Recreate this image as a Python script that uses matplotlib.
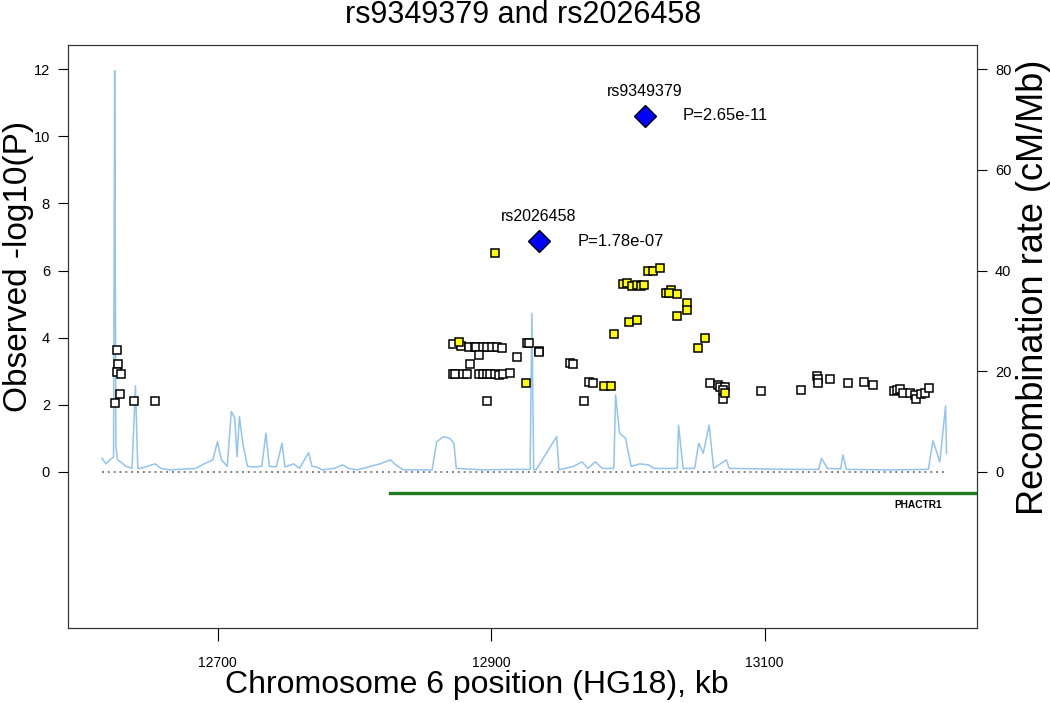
import matplotlib
matplotlib.use('Agg')
import matplotlib.pyplot as plt

plt.rcParams['font.family'] = ['Liberation Sans', 'DejaVu Sans']

# SNPs not in LD with the index SNPs (white squares)
other_kb = [12626.2, 12627.2, 12626.7, 12629.1, 12628.6, 12625.2, 12638.9, 12654.0,
            12871.9, 12877.8, 12884.1, 12888.0, 12889.0, 12893.9, 12897.2, 12900.7,
            12904.1, 12908.0, 12890.9, 12884.8, 12871.9, 12873.4, 12879.2, 12882.2,
            12891.4, 12893.9, 12896.8, 12899.2, 12903.1, 12906.0, 12908.9, 12913.8,
            12896.8, 12918.9, 12926.0, 12928.0, 12935.2, 12934.7, 12957.5, 12959.9,
            12971.8, 12974.3, 12968.2,
            13060.0, 13066.1, 13067.4, 13071.0, 13069.4, 13069.8, 13097.1, 13126.4,
            13138.5, 13139.3, 13139.3, 13147.8, 13161.2, 13172.7, 13179.5, 13194.6,
            13196.6, 13199.0, 13201.4, 13206.3, 13210.0, 13210.7, 13214.1, 13217.3,
            13220.4]
other_logp = [3.64, 3.22, 2.98, 2.93, 2.33, 2.06, 2.10, 2.10,
              3.80, 3.75, 3.72, 3.72, 3.72, 3.72, 3.72, 3.72,
              3.72, 3.70, 3.49, 3.21, 2.91, 2.91, 2.91, 2.91,
              2.91, 2.93, 2.91, 2.91, 2.91, 2.89, 2.91, 2.96,
              2.10, 3.41, 3.84, 3.84, 3.61, 3.57, 3.26, 3.21,
              2.69, 2.65, 2.12,
              2.64, 2.59, 2.54, 2.54, 2.44, 2.17, 2.40, 2.45,
              2.86, 2.76, 2.66, 2.77, 2.64, 2.69, 2.59, 2.41,
              2.44, 2.46, 2.35, 2.35, 2.29, 2.18, 2.32, 2.35,
              2.49]

# SNPs in LD (yellow squares)
ld_kb = [12876.3, 12925.7, 12982.6, 12987.5, 12903.1, 12990.0, 13001.0, 13006.5,
         12996.7, 12999.2, 13002.8, 13006.5, 13009.6, 13012.0, 13015.0, 13018.2,
         13023.5, 13027.9, 13031.3, 13036.2, 13030.3, 13043.0, 13043.0, 13036.2,
         13056.4, 13051.5, 13071.0]
ld_logp = [3.88, 2.65, 2.57, 2.57, 6.52, 4.12, 4.48, 4.52,
           5.60, 5.64, 5.54, 5.57, 5.55, 5.57, 5.99, 5.99,
           6.08, 5.32, 5.41, 5.31, 5.32, 5.04, 4.83, 4.66,
           4.00, 3.70, 2.36]

# index SNPs
top_names = ['rs9349379', 'rs2026458']
top_kb = [13012.3, 12935.0]
top_logp = [10.61, 6.88]
top_pval = ['P=2.65e-11', 'P=1.78e-07']

# recombination rate (cM/Mb)
recomb_kb = [12615.4, 12618.4, 12621.3, 12623.9, 12624.3, 12624.7, 12625.2, 12625.6,
             12626.8, 12628.9, 12633.2, 12637.4, 12639.9, 12641.6, 12643.7, 12654.3,
             12658.5, 12664.8, 12683.8, 12690.1, 12696.5, 12699.8, 12702.8, 12707.0,
             12710.0, 12712.5, 12714.2, 12715.9, 12718.4, 12721.8, 12726.0, 12732.3,
             12735.3, 12737.8, 12742.9, 12747.1, 12749.2, 12755.5, 12759.8, 12766.5,
             12769.0, 12772.4, 12776.6, 12785.1, 12791.4, 12795.6, 12801.9, 12818.8,
             12826.4, 12829.4, 12835.7, 12856.8, 12860.2, 12865.2, 12869.5, 12872.8,
             12874.5, 12894.8, 12911.7, 12920.1, 12928.5, 12929.8, 12931.1, 12932.8,
             12947.9, 12949.6, 12960.2, 12966.5, 12970.7, 12976.2, 12981.3, 12989.7,
             12991.0, 12993.9, 12998.2, 13002.4, 13008.7, 13015.0, 13019.3, 13036.1,
             13037.0, 13040.4, 13048.8, 13051.8, 13055.1, 13059.4, 13062.7, 13072.0,
             13074.1, 13122.6, 13139.5, 13141.6, 13145.9, 13155.6, 13157.2, 13159.8,
             13190.2, 13219.7, 13223.1, 13228.1, 13232.3, 13233.0]
recomb_rate = [2.7, 1.6, 2.4, 3.0, 40.0, 79.7, 40.0, 5.0,
               2.4, 2.0, 1.1, 0.7, 17.1, 0.7, 0.7, 1.6,
               0.7, 0.4, 0.7, 1.6, 2.4, 6.0, 2.4, 1.1,
               12.0, 10.7, 3.0, 11.0, 5.7, 1.1, 1.0, 1.1,
               7.7, 1.1, 1.0, 5.7, 1.0, 1.6, 0.7, 3.8,
               1.1, 1.0, 0.4, 0.7, 1.4, 0.7, 0.4, 1.6,
               2.4, 1.6, 0.4, 0.4, 6.0, 7.0, 6.7, 5.7,
               0.7, 0.4, 0.5, 0.5, 0.5, 31.5, 0.5, 0.4,
               7.0, 0.4, 1.1, 2.0, 0.7, 2.0, 0.7, 0.7,
               15.3, 7.7, 6.7, 1.1, 1.6, 1.4, 0.7, 0.7,
               9.3, 0.7, 0.7, 5.7, 3.7, 9.3, 0.7, 2.4,
               0.7, 0.5, 0.5, 2.7, 0.7, 0.6, 3.4, 0.5,
               0.4, 0.5, 6.2, 2.0, 13.1, 3.7]

gene_name = 'PHACTR1'
gene_start, gene_end = 12826.1, 13396.0

fig = plt.figure(figsize=(10.5, 7.03), dpi=100)
ax = fig.add_axes([0.0648, 0.1067, 0.8657, 0.8293])
ax2 = ax.twinx()

ax.set_xlim(12590.6, 13255.3)
ax.set_ylim(-4.65, 12.72)
ax2.set_ylim(-4.65 * 80 / 12, 12.72 * 80 / 12)

# recombination on the back axis
ax2.plot(recomb_kb, recomb_rate, color='#93c4f0', lw=1.1, zorder=1)
ax.set_zorder(ax2.get_zorder() + 1)
ax.patch.set_visible(False)

ax.plot([min(recomb_kb), max(recomb_kb)], [0, 0], color='#808080', lw=1.4,
        ls=(0, (1, 2)), zorder=2)

ax.plot(other_kb, other_logp, 's', ms=5.5, mfc='white', mec='black', mew=1.1, zorder=3)
ax.plot(ld_kb, ld_logp, 's', ms=5.5, mfc='#ffff00', mec='black', mew=1.1, zorder=4)
ax.plot(top_kb, top_logp, 'D', ms=11.5, mfc='#0000ff', mec='black', mew=1.0, zorder=5)
for name, x, y, p in zip(top_names, top_kb, top_logp, top_pval):
    ax.text(x, y + 0.5, name, ha='center', va='bottom', fontsize=11.5)
    ax.text(x + 28, y, p, ha='left', va='center', fontsize=12)

ax.plot([gene_start, gene_end], [-0.63, -0.63], color='#1e7b1e', lw=2.4, zorder=2)
ax.text(13212.2, -0.98, gene_name, ha='center', va='center', fontsize=7.3,
        fontweight='bold')

ax.set_yticks(range(0, 13, 2))
ax.set_xticks([12700, 12900, 13100])
ax2.set_yticks(range(0, 81, 20))
ax.tick_params(axis='y', length=7, labelsize=10.5, pad=6)
ax.tick_params(axis='x', length=9, labelsize=10, pad=11)
ax2.tick_params(axis='y', length=7, labelsize=10.5, pad=6)

ax.set_ylabel('Observed -log10(P)', fontsize=24)
ax.yaxis.set_label_coords(-0.037, 0.62)
ax2.set_ylabel('Recombination rate (cM/Mb)', fontsize=26)
ax2.yaxis.set_label_coords(1.043, 0.585)
ax.set_xlabel('Chromosome 6 position (HG18), kb', fontsize=23)
ax.xaxis.set_label_coords(0.45, -0.072)
fig.text(0.498, 0.978, 'rs9349379 and rs2026458', ha='center', va='center', fontsize=22)

for a in (ax, ax2):
    for s in a.spines.values():
        s.set_color('#333333')

fig.savefig('out.png', dpi=100)
